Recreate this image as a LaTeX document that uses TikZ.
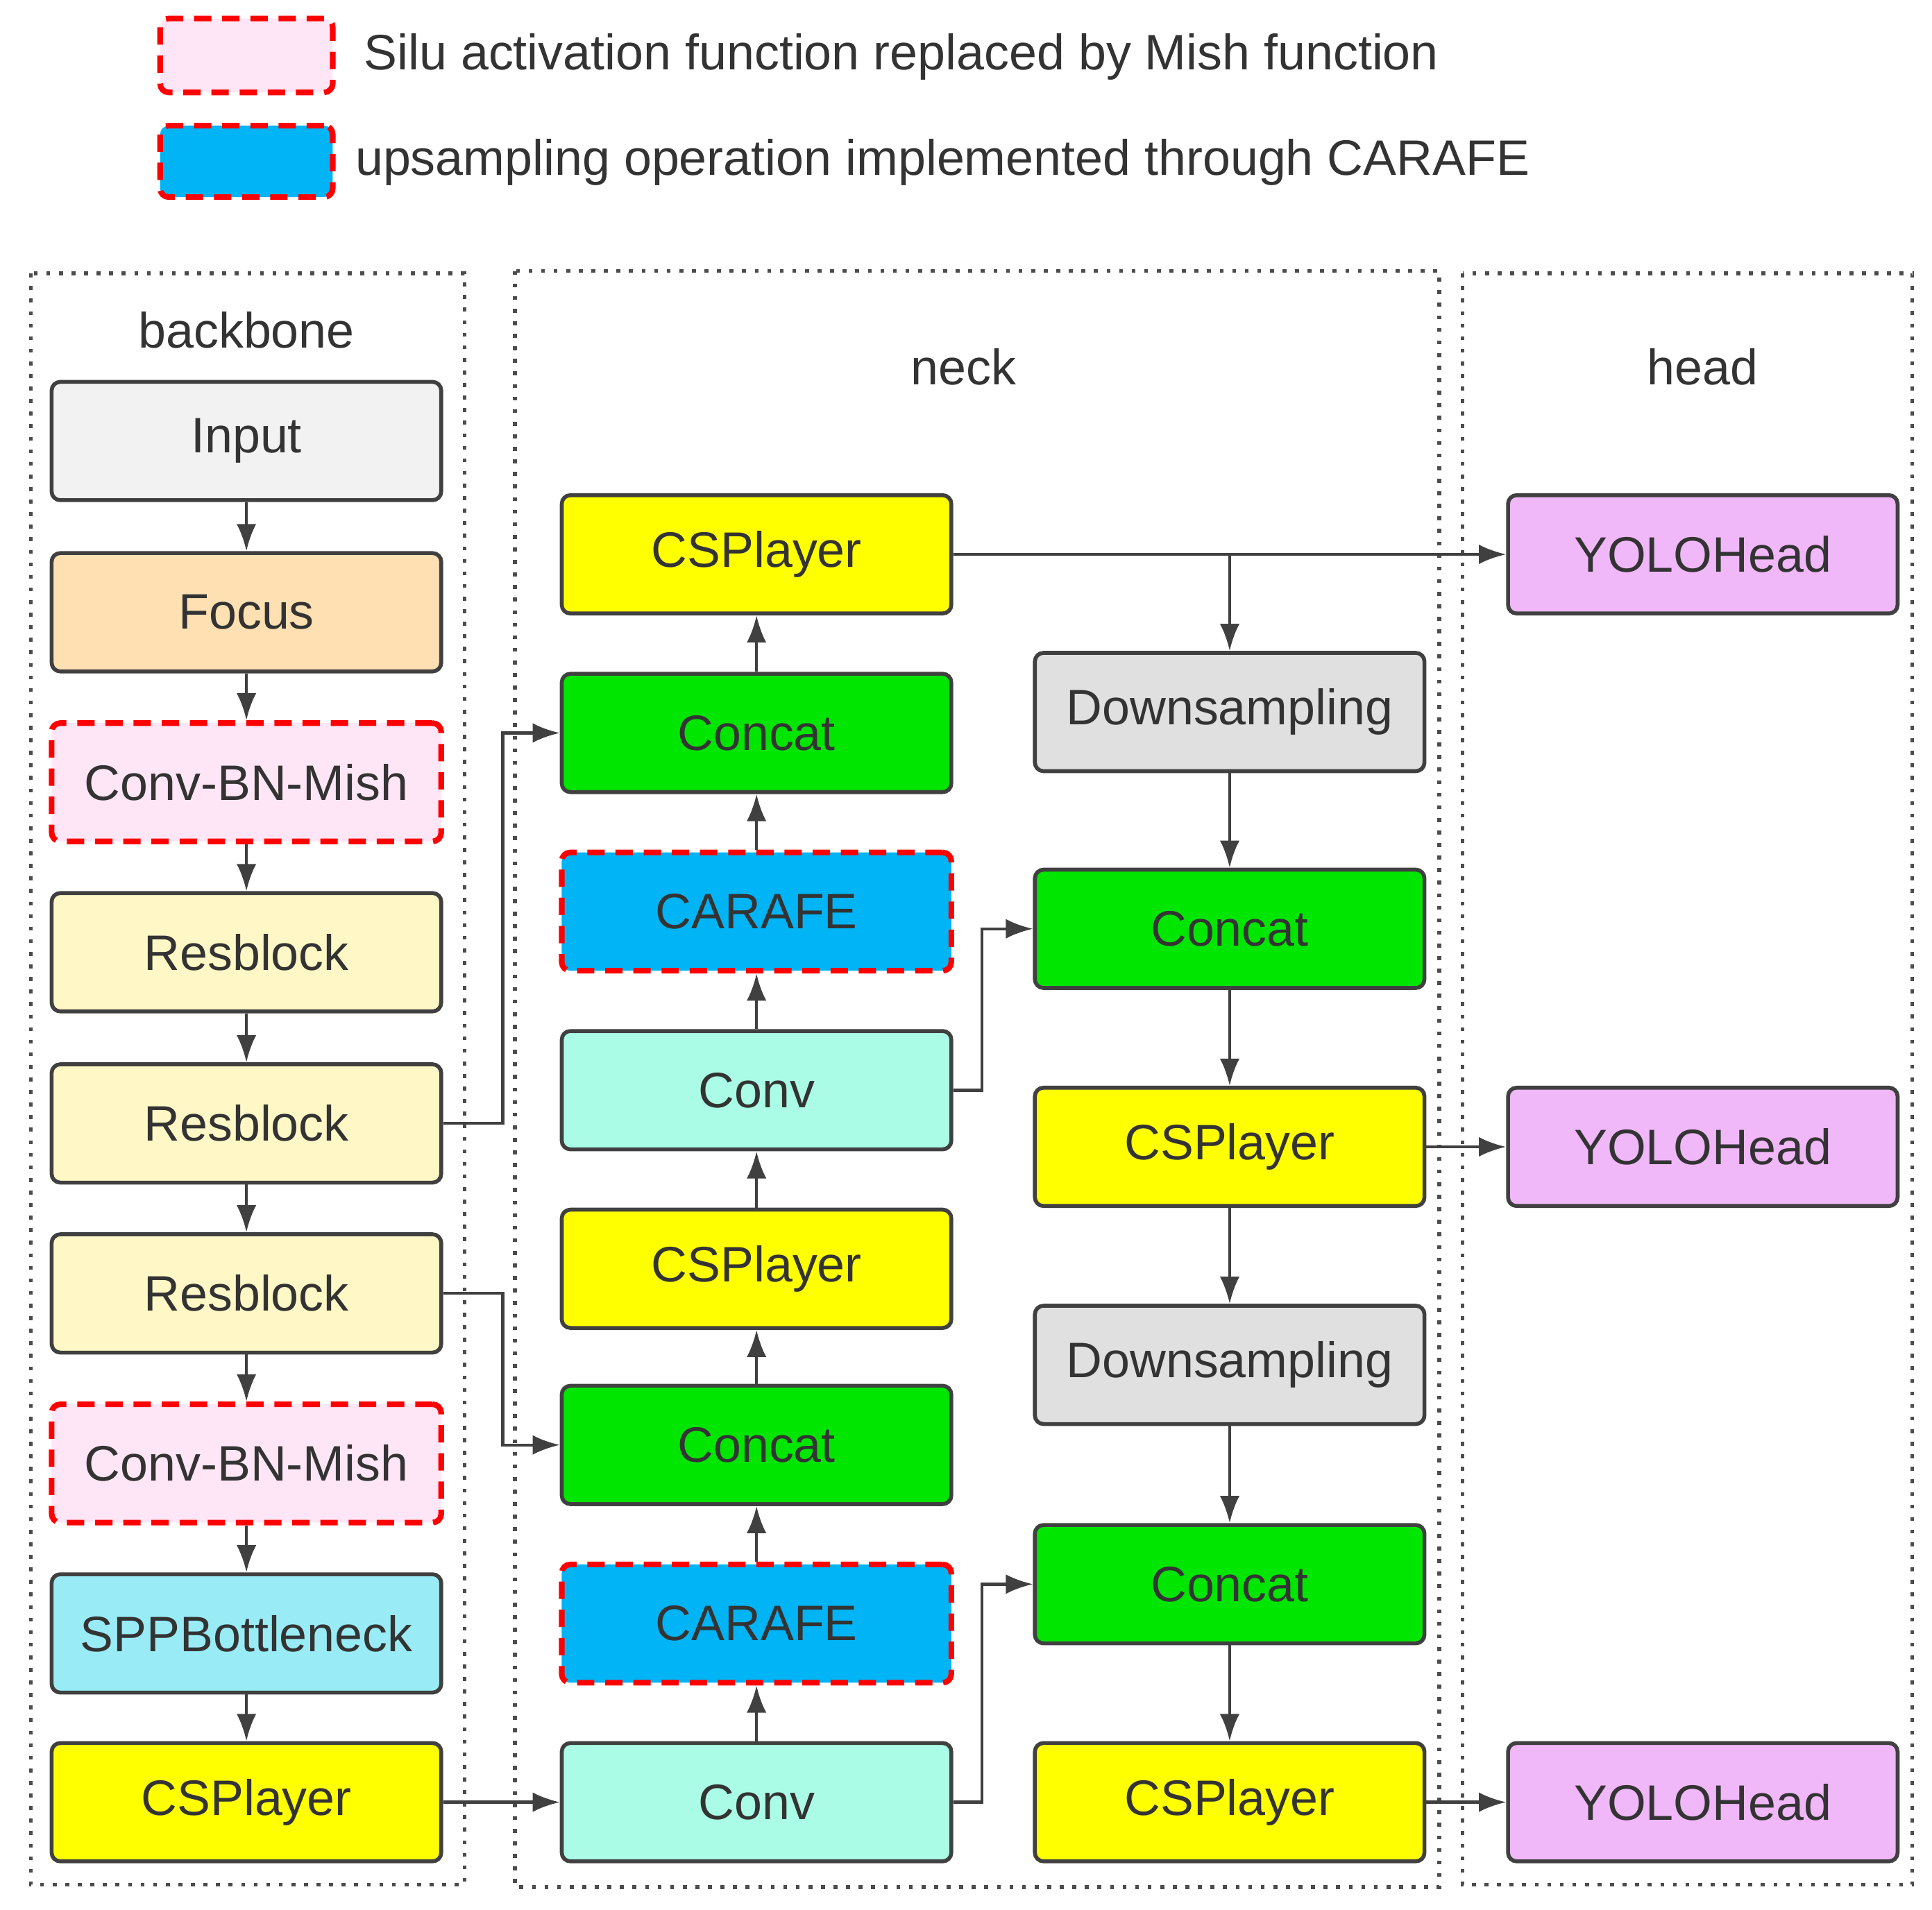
\documentclass[tikz,border=0pt]{standalone}
\usepackage{fontspec}
\setmainfont{Liberation Sans}
\usetikzlibrary{arrows.meta}
\definecolor{cInput}{HTML}{F2F2F2}
\definecolor{cFocus}{HTML}{FFE0B2}
\definecolor{cPink}{HTML}{FFE6F6}
\definecolor{cRes}{HTML}{FFF8C6}
\definecolor{cYel}{HTML}{FFFF00}
\definecolor{cGreen}{HTML}{00E600}
\definecolor{cBlue}{HTML}{00B4F5}
\definecolor{cConv}{HTML}{AAFCE6}
\definecolor{cSPP}{HTML}{99ECF5}
\definecolor{cDown}{HTML}{E0E0E0}
\definecolor{cYolo}{HTML}{F0B8F8}
\definecolor{cLine}{HTML}{404040}
\tikzset{
 blk/.style={draw=cLine,line width=0.9pt,rounded corners=2pt,minimum width=3.16cm,minimum height=0.96cm,font=\fontsize{11.5}{13}\selectfont,text=black!80},
 red/.style={draw=red,dashed,dash pattern=on 4pt off 2.5pt,line width=1.3pt},
 grp/.style={draw=black!70,dotted,line width=0.9pt},
 ar/.style={-{Latex[length=2.2mm,width=1.6mm]},draw=cLine,line width=0.7pt},
 ln/.style={draw=cLine,line width=0.7pt},
 lab/.style={font=\fontsize{11.5}{13}\selectfont,text=black!80}
}
\begin{document}
\begin{tikzpicture}[x=0.01cm,y=-0.01cm]
\useasboundingbox (0,0) rectangle (1568,1550);
% legend
\node[red,fill=cPink,minimum width=1.4cm,minimum height=0.6cm,rounded corners=2pt] (lg1) at (200,45) {};
\node[lab,anchor=west] (lt1) at (283,46) {Silu activation function replaced by Mish function};
\node[red,fill=cBlue,minimum width=1.4cm,minimum height=0.58cm,rounded corners=2pt] (lg2) at (200,131) {};
\node[lab,anchor=west] (lt2) at (276,132) {upsampling operation implemented through CARAFE};
% groups
\draw[grp] (25,222) rectangle (377,1530);
\draw[grp] (418,220) rectangle (1168,1532);
\draw[grp] (1187,222) rectangle (1552,1530);
\node[lab] (gb) at (200,268) {backbone};
\node[lab] (gn) at (782,298) {neck};
\node[lab] (gh) at (1382,298) {head};
% backbone
\node[blk,fill=cInput] (in) at (200,358) {Input};
\node[blk,fill=cFocus] (fo) at (200,497) {Focus};
\node[blk,red,fill=cPink] (cb1) at (200,635) {Conv-BN-Mish};
\node[blk,fill=cRes] (r1) at (200,773) {Resblock};
\node[blk,fill=cRes] (r2) at (200,912) {Resblock};
\node[blk,fill=cRes] (r3) at (200,1050) {Resblock};
\node[blk,red,fill=cPink] (cb2) at (200,1188) {Conv-BN-Mish};
\node[blk,fill=cSPP] (spp) at (200,1326) {SPPBottleneck};
\node[blk,fill=cYel] (bcsp) at (200,1463) {CSPlayer};
% neck col1
\node[blk,fill=cYel] (n1) at (614,450) {CSPlayer};
\node[blk,fill=cGreen] (n2) at (614,595) {Concat};
\node[blk,red,fill=cBlue] (n3) at (614,740) {CARAFE};
\node[blk,fill=cConv] (n4) at (614,885) {Conv};
\node[blk,fill=cYel] (n5) at (614,1030) {CSPlayer};
\node[blk,fill=cGreen] (n6) at (614,1173) {Concat};
\node[blk,red,fill=cBlue] (n7) at (614,1318) {CARAFE};
\node[blk,fill=cConv] (n8) at (614,1463) {Conv};
% neck col2
\node[blk,fill=cDown] (m1) at (998,578) {Downsampling};
\node[blk,fill=cGreen] (m2) at (998,754) {Concat};
\node[blk,fill=cYel] (m3) at (998,931) {CSPlayer};
\node[blk,fill=cDown] (m4) at (998,1108) {Downsampling};
\node[blk,fill=cGreen] (m5) at (998,1286) {Concat};
\node[blk,fill=cYel] (m6) at (998,1463) {CSPlayer};
% head
\node[blk,fill=cYolo] (h1) at (1382,450) {YOLOHead};
\node[blk,fill=cYolo] (h2) at (1382,931) {YOLOHead};
\node[blk,fill=cYolo] (h3) at (1382,1463) {YOLOHead};
% backbone arrows
\foreach \a/\b in {in/fo,fo/cb1,cb1/r1,r1/r2,r2/r3,r3/cb2,cb2/spp,spp/bcsp} \draw[ar] (\a) -- (\b);
% neck col1 arrows
\foreach \a/\b in {n8/n7,n7/n6,n6/n5,n5/n4,n4/n3,n3/n2,n2/n1} \draw[ar] (\a) -- (\b);
\foreach \a/\b in {m1/m2,m2/m3,m3/m4,m4/m5,m5/m6} \draw[ar] (\a) -- (\b);
\draw[ar] (r2.east) -- (408,912) |- (n2.west);
\draw[ar] (r3.east) -- (408,1050) |- (n6.west);
\draw[ar] (bcsp) -- (n8);
\draw[ar] (n4.east) -- (797,885) |- (m2.west);
\draw[ar] (n8.east) -- (797,1463) |- (m5.west);
\draw[ar] (n1) -- (h1);
\coordinate (br) at (998,450);
\draw[ar] (br) -- (m1);
\draw[ar] (m3) -- (h2);
\draw[ar] (m6) -- (h3);
\end{tikzpicture}
\end{document}
